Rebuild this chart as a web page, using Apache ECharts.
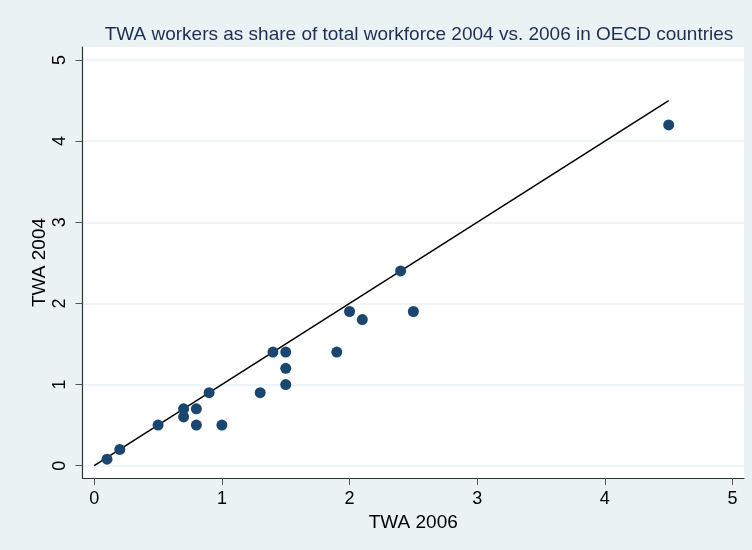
<!DOCTYPE html>
<html>
<head>
<meta charset="utf-8">
<script src="https://cdn.jsdelivr.net/npm/echarts@6/dist/echarts.min.js"></script>
<style>
  html, body { margin: 0; padding: 0; background: #EAF2F3; }
  #chart { width: 752px; height: 550px; }
</style>
</head>
<body>
<div id="chart"></div>
<script>
// TWA share of total workforce (%), one point per OECD country
const twa2006 = [0.1, 0.2, 0.5, 0.7, 0.7, 0.8, 0.8, 0.9, 1.0, 1.3, 1.4, 1.5, 1.5, 1.5, 1.9, 2.0, 2.1, 2.4, 2.5, 4.5];
const twa2004 = [0.08, 0.2, 0.5, 0.7, 0.6, 0.7, 0.5, 0.9, 0.5, 0.9, 1.4, 1.4, 1.2, 1.0, 1.4, 1.9, 1.8, 2.4, 1.9, 4.2];

// 45-degree reference line endpoints
const refX = [0, 4.5];
const refY = [0, 4.5];

const xTicks = [0, 1, 2, 3, 4, 5];
const yTicks = [0, 1, 2, 3, 4, 5];

const points = twa2006.map((x, i) => [x, twa2004[i]]);
const refLine = refX.map((x, i) => [x, refY[i]]);

const font = 'Liberation Sans, Arial, sans-serif';
const chart = echarts.init(document.getElementById('chart'));
chart.setOption({
  backgroundColor: '#EAF2F3',
  animation: false,
  title: {
    text: 'TWA workers as share of total workforce 2004 vs. 2006 in OECD countries',
    left: 414, top: 20, textAlign: 'center',
    textStyle: { fontFamily: font, fontSize: 19, fontWeight: 'normal', color: '#1E2E58' }
  },
  grid: {
    left: 82.5, right: 8, top: 47, bottom: 72,
    show: true, backgroundColor: '#FFFFFF', borderWidth: 0
  },
  xAxis: {
    type: 'value', min: -0.092, max: 5.09,
    name: 'TWA 2006', nameLocation: 'middle', nameGap: 30,
    nameTextStyle: { fontFamily: font, fontSize: 19, color: '#000' },
    axisLine: { show: true, onZero: false, lineStyle: { color: '#333', width: 1.2 } },
    axisTick: { show: true, length: 7, customValues: xTicks, lineStyle: { color: '#555' } },
    axisLabel: { customValues: xTicks, margin: 12, fontFamily: font, fontSize: 18, color: '#000' },
    splitLine: { show: false }
  },
  yAxis: {
    type: 'value', min: -0.152, max: 5.16,
    name: 'TWA 2004', nameLocation: 'middle', nameGap: 33.5, nameRotate: 90,
    nameMoveOverlap: false,
    nameTextStyle: { fontFamily: font, fontSize: 19, color: '#000' },
    axisLine: { show: true, onZero: false, lineStyle: { color: '#333', width: 1.2 } },
    axisTick: { show: true, length: 7, customValues: yTicks, lineStyle: { color: '#555' } },
    axisLabel: { customValues: yTicks, rotate: 90, margin: 13, fontFamily: font, fontSize: 18, color: '#000' },
    splitLine: { show: true, lineStyle: { color: '#EAF2F3', width: 1.5 } }
  },
  series: [
    {
      type: 'scatter', data: points, symbol: 'circle', symbolSize: 11,
      itemStyle: { color: '#1A476F', opacity: 1 }, z: 3
    },
    {
      type: 'line', data: refLine, symbol: 'none',
      lineStyle: { color: '#000', width: 1.5 }, z: 2
    }
  ]
});
</script>
</body>
</html>
